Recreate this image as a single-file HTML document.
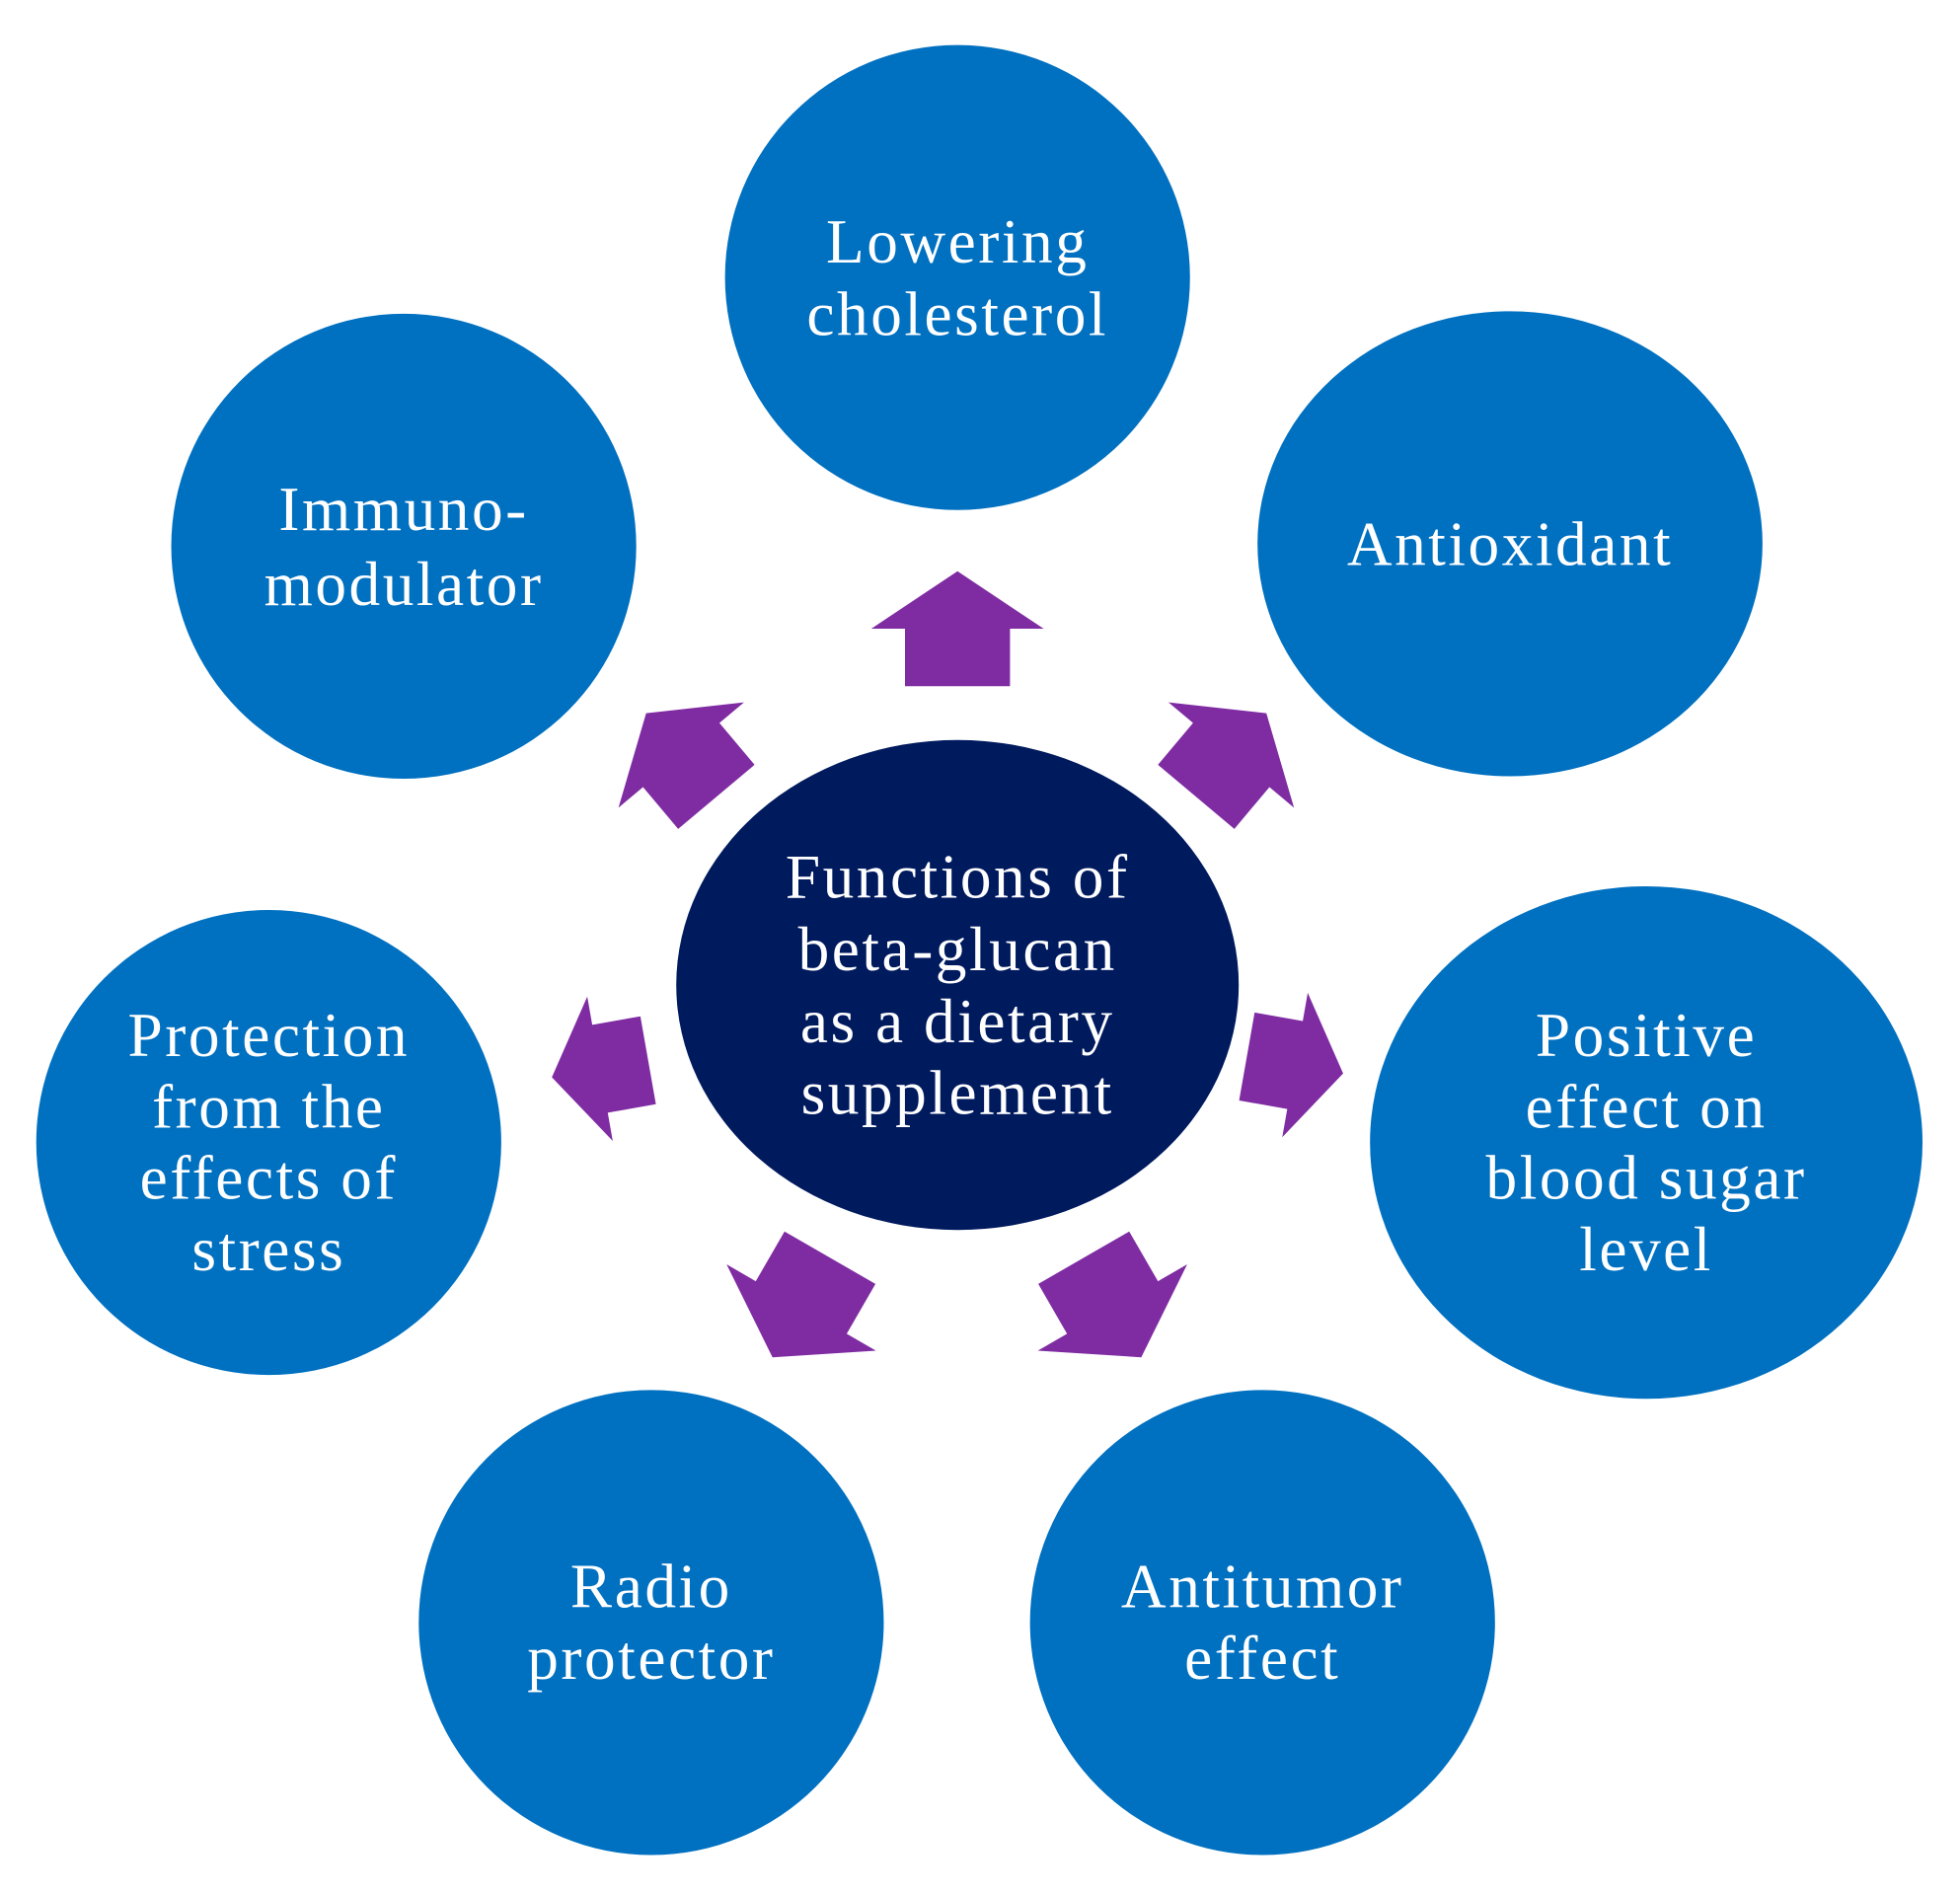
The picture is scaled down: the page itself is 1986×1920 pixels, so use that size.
<!DOCTYPE html>
<html><head><meta charset="utf-8"><style>
html,body{margin:0;padding:0;background:#fff;}
svg{display:block;}
text{font-family:"Liberation Serif",serif;fill:#fff;text-anchor:middle;letter-spacing:2px;}
</style></head><body>
<svg width="1986" height="1920" viewBox="0 0 1568 1516" preserveAspectRatio="none">
<defs>
<polygon id="arr" points="0,-46 69,0 42,0 42,46 -42,46 -42,0 -69,0" fill="#7F2CA3"/>
</defs>
<g fill="#0070C0">
<ellipse cx="766" cy="222" rx="186" ry="186"/>
<ellipse cx="1208" cy="435" rx="202" ry="186"/>
<ellipse cx="323" cy="437" rx="186" ry="186"/>
<ellipse cx="1317" cy="914" rx="221" ry="205"/>
<ellipse cx="215" cy="914" rx="186" ry="186"/>
<ellipse cx="521" cy="1298" rx="186" ry="186"/>
<ellipse cx="1010" cy="1298" rx="186" ry="186"/>
</g>
<ellipse cx="766" cy="788" rx="225" ry="196" fill="#001A5E"/>
<use href="#arr" transform="translate(766,503)"/>
<use href="#arr" transform="translate(985,604) rotate(40) scale(0.95)"/>
<use href="#arr" transform="translate(1036,852) rotate(100) scale(0.85)"/>
<use href="#arr" transform="translate(890,1046) rotate(150)"/>
<use href="#arr" transform="translate(641,1046) rotate(210)"/>
<use href="#arr" transform="translate(480,855) rotate(260) scale(0.85)"/>
<use href="#arr" transform="translate(545,604) rotate(320) scale(0.95)"/>
<g font-size="50">
<text x="766" y="210">Lowering</text>
<text x="766" y="268">cholesterol</text>
<text x="1208" y="452">Antioxidant</text>
<text x="323" y="424">Immuno-</text>
<text x="323" y="484">modulator</text>
<text x="1317" y="845">Positive</text>
<text x="1317" y="902">effect on</text>
<text x="1317" y="959">blood sugar</text>
<text x="1317" y="1016">level</text>
<text x="215" y="845">Protection</text>
<text x="215" y="902">from the</text>
<text x="215" y="959">effects of</text>
<text x="215" y="1016">stress</text>
<text x="521" y="1286">Radio</text>
<text x="521" y="1343">protector</text>
<text x="1010" y="1286">Antitumor</text>
<text x="1010" y="1343">effect</text>
<text x="766" y="718">Functions of</text>
<text x="766" y="776">beta-glucan</text>
<text x="766" y="834">as a dietary</text>
<text x="766" y="891">supplement</text>
</g>
</svg>
</body></html>
